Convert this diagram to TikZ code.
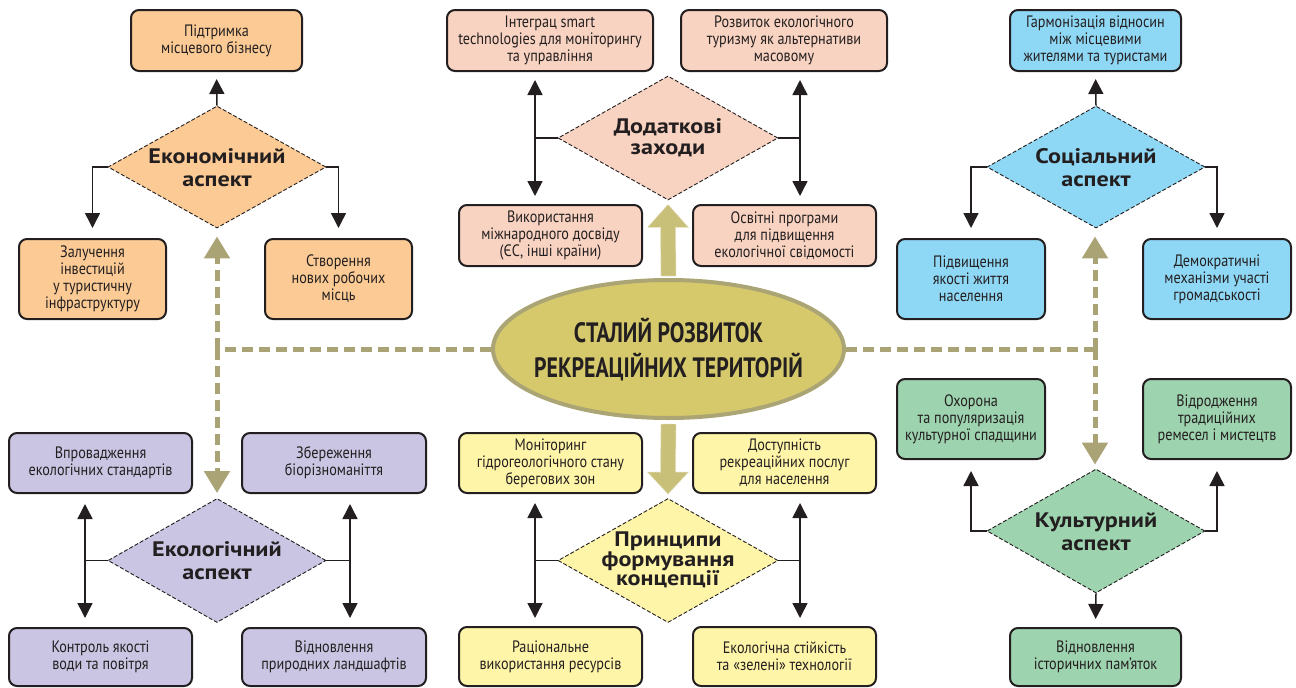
\documentclass[tikz,border=0pt]{standalone}
\usepackage{fontspec}
\setmainfont{PT Sans}
\newfontfamily\bodyf[FakeStretch=0.86]{PT Sans}
\newfontfamily\ttlf[FakeStretch=1.15]{PT Sans}
\newfontfamily\bigf[FakeStretch=0.78]{PT Sans}
\usetikzlibrary{shapes.geometric,arrows.meta,calc}
\definecolor{ink}{HTML}{231F20}
\definecolor{corange}{HTML}{FCCB95}
\definecolor{cpink}{HTML}{F9D3C1}
\definecolor{cblue}{HTML}{8FD8F5}
\definecolor{cpurple}{HTML}{C9C5E2}
\definecolor{cyellow}{HTML}{FFF5A8}
\definecolor{cgreen}{HTML}{9DD3AE}
\definecolor{cell}{HTML}{D5C96B}
\definecolor{cellb}{HTML}{ABA474}
\definecolor{khaki}{HTML}{A9A375}
\definecolor{blockc}{HTML}{C8BF78}
\tikzset{
  box/.style={draw=ink, line width=2pt, rounded corners=8pt, align=center,
    font=\bodyf\fontsize{16.5}{17}\selectfont, text=ink, inner sep=2pt},
  dia/.style={shape=diamond, draw=ink, line width=0.9pt, dash pattern=on 4pt off 2pt, inner sep=0pt},
  ttl/.style={align=center, font=\ttlf\bfseries\fontsize{21}{23}\selectfont, text=ink},
  arr/.style={draw=ink, line width=1.5pt, -{Triangle[length=15pt,width=15pt]}},
  ln/.style={draw=ink, line width=1.5pt},
  kdash/.style={draw=khaki, line width=5pt, dash pattern=on 11pt off 6pt},
  karr/.style={-{Triangle[length=22pt,width=25pt]}, khaki},
  blk/.style={fill=blockc, draw=white!55!blockc, line width=0.9pt, dash pattern=on 1.5pt off 1.5pt},
}
\begin{document}
\begin{tikzpicture}[x=1pt,y=-1pt]
\useasboundingbox (0,0) rectangle (1296,688);
% ---------- Economic
\node[box, fill=corange, minimum width=171pt, minimum height=61pt] (econTop) at (216.5,40.5) {Підтримка\\місцевого бізнесу};
\node[dia, fill=corange, minimum width=218pt, minimum height=122pt] (econ) at (217,167) {};
\node[ttl] (econT) at (217,168) {Економічний\\аспект};
\node[box, fill=corange, minimum width=147pt, minimum height=80pt] (econL) at (92.5,279) {Залучення\\інвестицій\\у туристичну\\інфраструктуру};
\node[box, fill=corange, minimum width=147pt, minimum height=80pt] (econR) at (338.5,279) {Створення\\нових робочих\\місць};
\draw[arr, shorten >=7pt] (econ.north) -- (econTop.south);
\draw[arr, shorten >=10pt] (econ.west) -| (econL.north);
\draw[arr, shorten >=10pt] (econ.east) -| (econR.north);
% ---------- Additional measures
\node[box, fill=cpink, minimum width=206pt, minimum height=61pt] (dodTL) at (550,40.5) {Інтеграц smart\\technologies для моніторингу\\та управління};
\node[box, fill=cpink, minimum width=206pt, minimum height=61pt] (dodTR) at (784,40.5) {Розвиток екологічного\\туризму як альтернативи\\масовому};
\node[dia, fill=cpink, minimum width=220pt, minimum height=124pt] (dod) at (668,138) {};
\node[ttl, font=\ttlf\bfseries\fontsize{21}{21}\selectfont] (dodT) at (668,138) {Додаткові\\заходи};
\node[box, fill=cpink, minimum width=183pt, minimum height=61pt] (dodBL) at (550.5,235.5) {Використання\\міжнародного досвіду\\(ЄС, інші країни)};
\node[box, fill=cpink, minimum width=183pt, minimum height=61pt] (dodBR) at (784.5,235.5) {Освітні програми\\для підвищення\\екологічної свідомості};
\coordinate (dodL) at (535,138);
\coordinate (dodR) at (800,138);
\draw[ln] (dod.west) -- (dodL);
\draw[ln] (dod.east) -- (dodR);
\draw[arr, shorten >=8pt] (dodL) -- (dodL |- dodTL.south);
\draw[arr, shorten >=8pt] (dodL) -- (dodL |- dodBL.north);
\draw[arr, shorten >=8pt] (dodR) -- (dodR |- dodTR.south);
\draw[arr, shorten >=8pt] (dodR) -- (dodR |- dodBR.north);
% ---------- Social
\node[box, fill=cblue, minimum width=171pt, minimum height=61pt] (socTop) at (1095.5,40.5) {Гармонізація відносин\\між місцевими\\жителями та туристами};
\node[dia, fill=cblue, minimum width=218pt, minimum height=122pt] (soc) at (1096,167) {};
\node[ttl] (socT) at (1096,168) {Соціальний\\аспект};
\node[box, fill=cblue, minimum width=148pt, minimum height=80pt] (socL) at (971,279) {Підвищення\\якості життя\\населення};
\node[box, fill=cblue, minimum width=148pt, minimum height=80pt] (socR) at (1217,279) {Демократичні\\механізми участі\\громадськості};
\draw[arr, shorten >=7pt] (soc.north) -- (socTop.south);
\draw[arr, shorten >=10pt] (soc.west) -| (socL.north);
\draw[arr, shorten >=10pt] (soc.east) -| (socR.north);
% ---------- Ecological
\node[box, fill=cpurple, minimum width=183pt, minimum height=60pt] (ecoTL) at (100.5,463) {Впровадження\\екологічних стандартів};
\node[box, fill=cpurple, minimum width=184pt, minimum height=60pt] (ecoTR) at (334,463) {Збереження\\біорізноманіття};
\node[dia, fill=cpurple, minimum width=218pt, minimum height=124pt] (eco) at (217,560.5) {};
\node[ttl] (ecoT) at (217,561) {Екологічний\\аспект};
\node[box, fill=cpurple, minimum width=183pt, minimum height=58pt] (ecoBL) at (100.5,657) {Контроль якості\\води та повітря};
\node[box, fill=cpurple, minimum width=184pt, minimum height=58pt] (ecoBR) at (334,657) {Відновлення\\природних ландшафтів};
\coordinate (ecoL) at (85,560.5);
\coordinate (ecoR) at (350,560.5);
\draw[ln] (eco.west) -- (ecoL);
\draw[ln] (eco.east) -- (ecoR);
\draw[arr, shorten >=10pt] (ecoL) -- (ecoL |- ecoTL.south);
\draw[arr, shorten >=9pt] (ecoL) -- (ecoL |- ecoBL.north);
\draw[arr, shorten >=10pt] (ecoR) -- (ecoR |- ecoTR.south);
\draw[arr, shorten >=9pt] (ecoR) -- (ecoR |- ecoBR.north);
% ---------- Principles
\node[box, fill=cyellow, minimum width=183pt, minimum height=60pt] (prTL) at (550.5,463) {Моніторинг\\гідрогеологічного стану\\берегових зон};
\node[box, fill=cyellow, minimum width=183pt, minimum height=60pt] (prTR) at (784.5,463) {Доступність\\рекреаційних послуг\\для населення};
\node[dia, fill=cyellow, minimum width=220pt, minimum height=124pt] (pr) at (668,560.5) {};
\node[ttl, font=\ttlf\bfseries\fontsize{21}{19.5}\selectfont] (prT) at (668,560) {Принципи\\формування\\концепції};
\node[box, fill=cyellow, minimum width=183pt, minimum height=59pt] (prBL) at (550.5,656.5) {Раціональне\\використання ресурсів};
\node[box, fill=cyellow, minimum width=183pt, minimum height=59pt] (prBR) at (784.5,656.5) {Екологічна стійкість\\та «зелені» технології};
\coordinate (prL) at (535,560.5);
\coordinate (prR) at (800,560.5);
\draw[ln] (pr.west) -- (prL);
\draw[ln] (pr.east) -- (prR);
\draw[arr, shorten >=9pt] (prL) -- (prL |- prTL.south);
\draw[arr, shorten >=8pt] (prL) -- (prL |- prBL.north);
\draw[arr, shorten >=9pt] (prR) -- (prR |- prTR.south);
\draw[arr, shorten >=8pt] (prR) -- (prR |- prBR.north);
% ---------- Cultural
\node[box, fill=cgreen, minimum width=148pt, minimum height=80pt] (cuTL) at (971,419) {Охорона\\та популяризація\\культурної спадщини};
\node[box, fill=cgreen, minimum width=148pt, minimum height=80pt] (cuTR) at (1217,419) {Відродження\\традиційних\\ремесел і мистецтв};
\node[dia, fill=cgreen, minimum width=218pt, minimum height=124pt] (cu) at (1096,531) {};
\node[ttl] (cuT) at (1096,532) {Культурний\\аспект};
\node[box, fill=cgreen, minimum width=171pt, minimum height=58pt] (cuB) at (1095.5,657) {Відновлення\\історичних пам’яток};
\draw[arr, shorten >=11pt] (cu.west) -| (cuTL.south);
\draw[arr, shorten >=11pt] (cu.east) -| (cuTR.south);
\draw[arr, shorten >=8pt] (cu.south) -- (cuB.north);
% ---------- Centre
\node[ellipse, draw=cellb, line width=4pt, fill=cell, minimum width=351pt, minimum height=138pt, inner sep=0pt] (ell) at (668.5,349) {};
\node[align=center, text=ink, font=\bigf\bfseries\fontsize{28}{35}\selectfont] (ellT) at (668.5,350) {СТАЛИЙ РОЗВИТОК\\РЕКРЕАЦІЙНИХ ТЕРИТОРІЙ};
\coordinate (jL) at (217,349);
\coordinate (jR) at (1095,349);
\draw[kdash] (ell.west) -- (jL);
\draw[kdash] (ell.east) -- (jR);
\draw[kdash, karr, shorten >=8pt] (jL) -- (jL |- econ.south);
\draw[kdash, karr, shorten >=5pt] (jL) -- (jL |- eco.north);
\draw[kdash, karr, shorten >=8pt] (jR) -- (jR |- soc.south);
\draw[kdash, karr, shorten >=4pt] (jR) -- (jR |- cu.north);
% block arrows from the centre
\draw[blk] ($(ell.north)+(-7.5,-2)$) -- ($(dod.south)+(-7.5,27)$) -- ($(dod.south)+(-20.5,27)$)
  -- ($(dod.south)+(0,4)$) -- ($(dod.south)+(20.5,27)$) -- ($(dod.south)+(7.5,27)$)
  -- ($(ell.north)+(7.5,-2)$) -- cycle;
\draw[blk] ($(ell.south)+(-7.5,4)$) -- ($(pr.north)+(-7.5,-26)$) -- ($(pr.north)+(-20.5,-26)$)
  -- ($(pr.north)+(0,-4)$) -- ($(pr.north)+(20.5,-26)$) -- ($(pr.north)+(7.5,-26)$)
  -- ($(ell.south)+(7.5,4)$) -- cycle;
\end{tikzpicture}
\end{document}
